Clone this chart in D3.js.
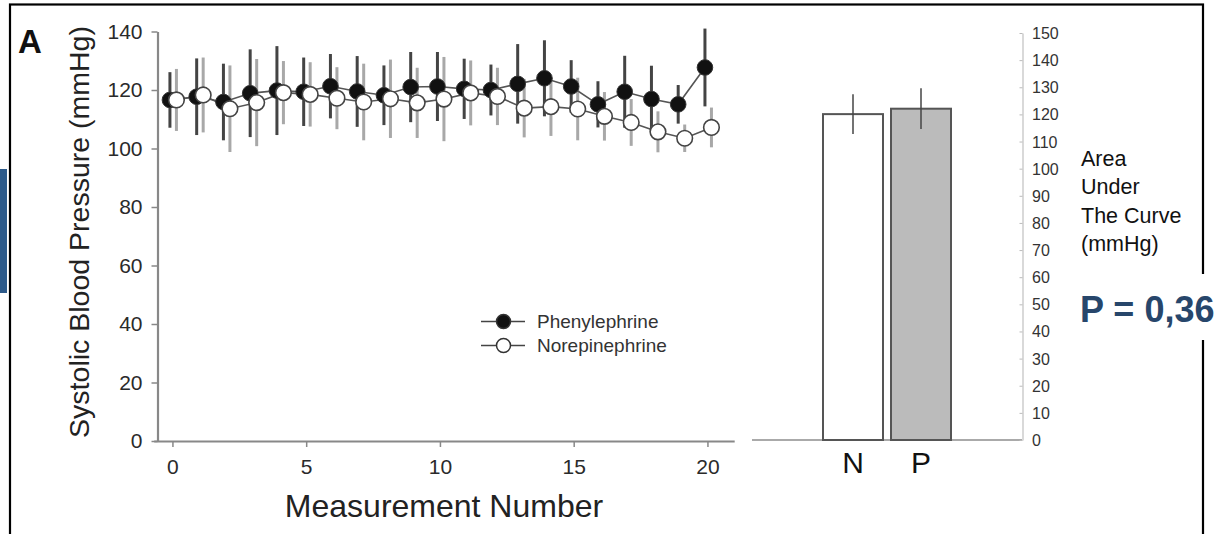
<!DOCTYPE html>
<html>
<head>
<meta charset="utf-8">
<script src="https://cdn.jsdelivr.net/npm/d3@7"></script>
<style>
body { margin:0; background:#fff; }
svg text { font-family: Arial, "Liberation Sans", sans-serif; }
</style>
</head>
<body>
<div id="chart"></div>
<script>
var width = 1220, height = 534;

// measurement numbers 0..20
var measurements = [0,1,2,3,4,5,6,7,8,9,10,11,12,13,14,15,16,17,18,19,20];
// Phenylephrine (filled)
var pheMean = [116.6,117.7,115.9,118.9,119.8,119.4,121.3,119.5,118.2,121.0,121.2,120.4,120.0,122.1,124.0,121.2,115.1,119.4,116.9,115.1,127.7];
var pheSd   = [9.5,13.1,13.1,15.0,15.2,11.7,11.0,12.1,10.2,12.0,11.8,10.3,8.7,13.6,13.0,9.0,7.9,12.3,11.4,6.6,13.3];
// Norepinephrine (open)
var norMean = [116.6,118.3,113.6,115.7,119.1,118.5,117.2,115.9,117.0,115.6,116.9,119.0,117.8,113.8,114.3,113.5,111.0,108.9,105.7,103.5,107.2];
var norSd   = [10.6,12.8,14.8,14.9,10.8,11.0,10.6,13.1,13.4,12.0,14.4,11.1,9.8,10.0,10.0,10.7,8.3,8.0,7.0,4.7,6.8];
var xTicks = [0,5,10,15,20];
var yTicks = [0,20,40,60,80,100,120,140];

// area under the curve bars
var aucCats = ["N","P"];
var aucMean = [120.1,122.1];
var aucSd   = [7.3,7.5];
var aucTicks = [0,10,20,30,40,50,60,70,80,90,100,110,120,130,140,150];

var svg = d3.select("#chart").append("svg")
    .attr("width", width)
    .attr("height", height);

// frame + side marker
svg.append("rect").attr("x",0).attr("y",169).attr("width",7).attr("height",124).attr("fill","#2d5a8a");
svg.append("rect").attr("x",10).attr("y",4.5).attr("width",1193).attr("height",560)
    .attr("fill","none").attr("stroke","#000").attr("stroke-width",2.2);

svg.append("text").attr("x",18).attr("y",53).attr("font-size",33).attr("font-weight","bold")
    .attr("fill","#111").text("A");

// ---- left panel ----
var x = d3.scaleLinear().domain([-0.7,21]).range([153.7,734.2]);
var y = d3.scaleLinear().domain([0,140]).range([441,31.5]);

var xAxis = d3.axisBottom(x).tickValues(xTicks).tickSize(6).tickSizeOuter(0).tickPadding(12);
var yAxis = d3.axisLeft(y).tickValues(yTicks).tickSize(6).tickSizeOuter(0).tickPadding(9);

var gx = svg.append("g").attr("transform","translate(0,441)").call(xAxis);
var gy = svg.append("g").attr("transform","translate(157.5,0)").call(yAxis);
[gx,gy].forEach(function(g){
  g.select(".domain").attr("stroke","#888").attr("stroke-width",2.2);
  g.selectAll(".tick line").attr("stroke","#888").attr("stroke-width",1.5);
  g.selectAll(".tick text").attr("fill","#2a2a2a").attr("font-size",21)
    .attr("font-family","Arial, 'Liberation Sans', sans-serif");
});

svg.append("text").attr("transform","translate(89,232) rotate(-90)")
    .attr("text-anchor","middle").attr("font-size",28.5).attr("fill","#222")
    .text("Systolic Blood Pressure (mmHg)");
svg.append("text").attr("x",444).attr("y",517).attr("text-anchor","middle")
    .attr("font-size",32).attr("fill","#222").text("Measurement Number");

var phe = measurements.map(function(m,i){ return {m:m, v:pheMean[i], sd:pheSd[i]}; });
var nor = measurements.map(function(m,i){ return {m:m, v:norMean[i], sd:norSd[i]}; });
var offP = -2.5, offN = 4;

var line = d3.line()
    .x(function(d){ return x(d.m) + d.o; })
    .y(function(d){ return y(d.v); });

// error bars
svg.append("g").selectAll("line").data(nor).enter().append("line")
    .attr("x1",function(d){ return x(d.m)+offN; }).attr("x2",function(d){ return x(d.m)+offN; })
    .attr("y1",function(d){ return y(d.v+d.sd); }).attr("y2",function(d){ return y(d.v-d.sd); })
    .attr("stroke","#a8a8a8").attr("stroke-width",3);
svg.append("g").selectAll("line").data(phe).enter().append("line")
    .attr("x1",function(d){ return x(d.m)+offP; }).attr("x2",function(d){ return x(d.m)+offP; })
    .attr("y1",function(d){ return y(d.v+d.sd); }).attr("y2",function(d){ return y(d.v-d.sd); })
    .attr("stroke","#444").attr("stroke-width",3);

svg.append("path").attr("d",line(phe.map(function(d){ return {m:d.m,v:d.v,o:offP}; })))
    .attr("fill","none").attr("stroke","#555").attr("stroke-width",1.6);
svg.append("path").attr("d",line(nor.map(function(d){ return {m:d.m,v:d.v,o:offN}; })))
    .attr("fill","none").attr("stroke","#555").attr("stroke-width",1.6);

svg.append("g").selectAll("circle").data(phe).enter().append("circle")
    .attr("cx",function(d){ return x(d.m)+offP; }).attr("cy",function(d){ return y(d.v); })
    .attr("r",7.8).attr("fill","#111").attr("stroke","#333").attr("stroke-width",1);
svg.append("g").selectAll("circle").data(nor).enter().append("circle")
    .attr("cx",function(d){ return x(d.m)+offN; }).attr("cy",function(d){ return y(d.v); })
    .attr("r",7.8).attr("fill","#fff").attr("stroke","#444").attr("stroke-width",1.6);

// legend
var legend = svg.append("g");
[{name:"Phenylephrine",fill:"#111",yy:321.5},{name:"Norepinephrine",fill:"#fff",yy:345.5}].forEach(function(s){
  legend.append("line").attr("x1",481).attr("x2",525).attr("y1",s.yy).attr("y2",s.yy)
      .attr("stroke","#444").attr("stroke-width",1.5);
  legend.append("circle").attr("cx",503.5).attr("cy",s.yy).attr("r",7)
      .attr("fill",s.fill).attr("stroke","#333").attr("stroke-width",1.5);
  legend.append("text").attr("x",537).attr("y",s.yy+6.5).attr("font-size",19)
      .attr("fill","#333").text(s.name);
});

// ---- right panel ----
var xb = d3.scaleBand().domain(aucCats).range([823,951]).paddingInner(8/68).paddingOuter(0);
var yb = d3.scaleLinear().domain([0,150]).range([440,33]);

svg.append("line").attr("x1",752).attr("x2",1022).attr("y1",yb(0)).attr("y2",yb(0))
    .attr("stroke","#aaa").attr("stroke-width",2);

var yAxisR = d3.axisLeft(yb).tickValues(aucTicks).tickSize(3).tickSizeOuter(0).tickFormat("");
var gr = svg.append("g").attr("transform","translate(1022.5,0)").call(yAxisR);
gr.select(".domain").attr("stroke","#ccc").attr("stroke-width",1.5);
gr.selectAll(".tick line").attr("stroke","#bbb");
svg.append("g").selectAll("text").data(aucTicks).enter().append("text")
    .attr("x",1032).attr("y",function(d){ return yb(d)+6; })
    .attr("font-size",16).attr("fill","#333").text(function(d){ return d; });

svg.append("g").selectAll("rect").data(aucCats).enter().append("rect")
    .attr("x",function(d){ return xb(d); }).attr("width",xb.bandwidth())
    .attr("y",function(d,i){ return yb(aucMean[i]); })
    .attr("height",function(d,i){ return yb(0)-yb(aucMean[i]); })
    .attr("fill",function(d,i){ return i===0 ? "#fff" : "#bbb"; })
    .attr("stroke","#555").attr("stroke-width",2);
svg.append("g").selectAll("line").data(aucCats).enter().append("line")
    .attr("x1",function(d){ return xb(d)+xb.bandwidth()/2; })
    .attr("x2",function(d){ return xb(d)+xb.bandwidth()/2; })
    .attr("y1",function(d,i){ return yb(aucMean[i]+aucSd[i]); })
    .attr("y2",function(d,i){ return yb(aucMean[i]-aucSd[i]); })
    .attr("stroke","#444").attr("stroke-width",1.5);
svg.append("g").selectAll("text").data(aucCats).enter().append("text")
    .attr("x",function(d){ return xb(d)+xb.bandwidth()/2; }).attr("y",473)
    .attr("text-anchor","middle").attr("font-size",30).attr("fill","#111")
    .text(function(d){ return d; });

var auc = svg.append("text").attr("x",1081).attr("font-size",21.5).attr("fill","#111");
["Area","Under","The Curve","(mmHg)"].forEach(function(t,i){
  auc.append("tspan").attr("x",1081).attr("y",166+i*28.3).text(t);
});

svg.append("rect").attr("x",1076).attr("y",274).attr("width",144).attr("height",66).attr("fill","#fff");
svg.append("text").attr("x",1080).attr("y",322).attr("font-size",36).attr("font-weight","bold")
    .attr("fill","#27466b").text("P = 0,36");
</script>
</body>
</html>
